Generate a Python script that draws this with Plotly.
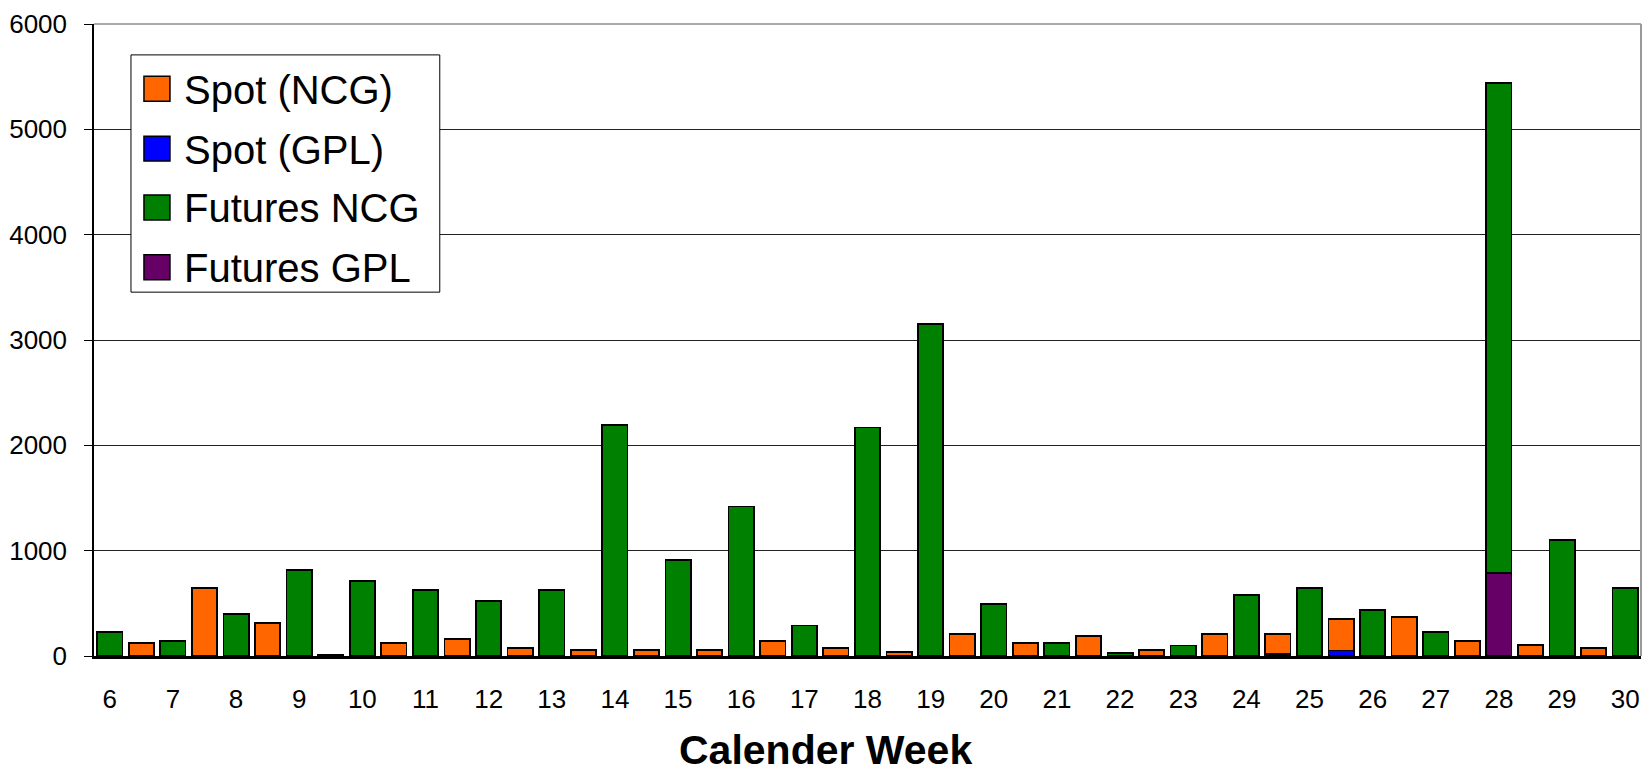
import plotly.graph_objects as go

# ---- data ----
weeks = list(range(6, 31))
futures_ncg = [225, 140, 395, 815, 710, 625, 520, 625, 2190, 915, 1420, 290, 2170,
               3150, 497, 120, 30, 100, 582, 642, 437, 228, 4650, 1105, 642]
futures_gpl = [None] * 22 + [790] + [None] * 2

spot_weeks = list(range(6, 30))
spot_ncg = [120, 642, 310, 8, 120, 165, 79, 57, 57, 57, 142, 79, 38, 209, 120, 187,
            57, 209, 190, 300, 373, 142, 101, 79]
spot_gpl = [None] * 18 + [20, 52] + [None] * 4

tick_labels = [str(w) for w in weeks]
legend_names = ["Spot (NCG)", "Spot (GPL)", "Futures NCG", "Futures GPL"]
colors = {"Spot (NCG)": "#FF6600", "Spot (GPL)": "#0000FF",
          "Futures NCG": "#008000", "Futures GPL": "#660066"}

FONT = "Liberation Sans, Arial, Helvetica, sans-serif"
W, H = 1650, 774
L, R, T, B = 93, 9, 22, 118
PW, PH = W - L - R, H - T - B

def px_x(x):
    return (x - L) / PW

def px_y(y):
    return (H - B - y) / PH

spot_x = [w + 0.5 for w in spot_weeks]
line = dict(color="black", width=1.8)

fig = go.Figure()
fig.add_trace(go.Bar(x=weeks, y=futures_gpl, name="Futures GPL", width=0.4,
                     marker=dict(color=colors["Futures GPL"], line=line)))
fig.add_trace(go.Bar(x=weeks, y=futures_ncg, name="Futures NCG", width=0.4,
                     marker=dict(color=colors["Futures NCG"], line=line)))
fig.add_trace(go.Bar(x=spot_x, y=spot_gpl, name="Spot (GPL)", width=0.4,
                     marker=dict(color=colors["Spot (GPL)"], line=line)))
fig.add_trace(go.Bar(x=spot_x, y=spot_ncg, name="Spot (NCG)", width=0.4,
                     marker=dict(color=colors["Spot (NCG)"], line=line)))

shapes = [
    dict(type="line", xref="paper", yref="paper", x0=0, x1=1, y0=1, y1=1,
         line=dict(color="#555555", width=1)),
    dict(type="line", xref="paper", yref="paper", x0=1, x1=1, y0=0, y1=1,
         line=dict(color="#999999", width=2)),
    dict(type="rect", xref="paper", yref="paper", x0=px_x(130), x1=px_x(439),
         y0=px_y(291), y1=px_y(53), fillcolor="white",
         line=dict(color="black", width=1), layer="above"),
]
annotations = []
row_y = [87, 147, 206, 266]
for name, yc in zip(legend_names, row_y):
    shapes.append(dict(type="rect", xref="paper", yref="paper",
                       x0=px_x(143), x1=px_x(169), y0=px_y(yc + 12.5), y1=px_y(yc - 12.5),
                       fillcolor=colors[name], line=dict(color="black", width=1.5),
                       layer="above"))
    annotations.append(dict(text=name, xref="paper", yref="paper", x=px_x(181),
                            y=px_y(yc + 1), xanchor="left", yanchor="middle",
                            showarrow=False, font=dict(family=FONT, size=40, color="black")))

annotations.append(dict(text="<b>Calender Week</b>", xref="paper", yref="paper",
                        x=px_x(825), y=px_y(750), xanchor="center", yanchor="middle",
                        showarrow=False, font=dict(family=FONT, size=41, color="black")))

fig.update_layout(
    width=W, height=H,
    margin=dict(l=L, r=R, t=T, b=B),
    barmode="stack",
    paper_bgcolor="white", plot_bgcolor="white",
    showlegend=False,
    font=dict(family=FONT, size=26, color="black"),
    shapes=shapes, annotations=annotations,
    xaxis=dict(range=[5.75, 30.25], tickvals=weeks, ticktext=tick_labels,
               showgrid=False, zeroline=False, showline=True, linecolor="black",
               linewidth=3, ticks="", ticklabelstandoff=18,
               tickfont=dict(family=FONT, size=26, color="black")),
    yaxis=dict(range=[0, 6000], tickvals=[0, 1000, 2000, 3000, 4000, 5000, 6000],
               showgrid=True, gridcolor="#222222", gridwidth=1, zeroline=False,
               showline=True, linecolor="black", linewidth=1.5,
               ticks="outside", ticklen=8, tickcolor="black", ticklabelstandoff=12,
               tickfont=dict(family=FONT, size=26, color="black")),
)

fig.write_html("out.html", config={"displayModeBar": False},
               post_script="document.body.style.margin='0';"
                           "document.body.style.overflow='hidden';")
